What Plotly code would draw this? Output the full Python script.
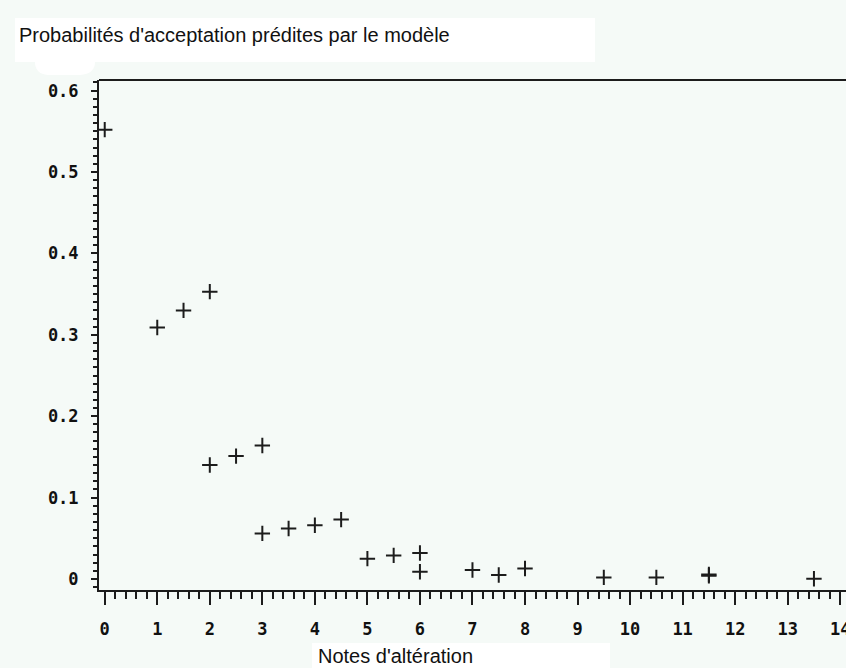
import plotly.graph_objects as go

# Model-predicted acceptance probabilities by alteration score
notes = [0, 1, 1.5, 2, 2, 2.5, 3, 3, 3.5, 4, 4.5, 5, 5.5, 6, 6,
         7, 7.5, 8, 9.5, 10.5, 11.5, 11.5, 13.5]
probas = [0.552, 0.309, 0.330, 0.353, 0.140, 0.151, 0.164, 0.056, 0.062,
          0.066, 0.073, 0.025, 0.029, 0.032, 0.009, 0.011, 0.005, 0.013,
          0.002, 0.002, 0.004, 0.0055, 0.0003]

x_ticks = list(range(0, 15))
x_ticklabels = [str(v) for v in x_ticks]
y_ticks = [0, 0.1, 0.2, 0.3, 0.4, 0.5, 0.6]
y_ticklabels = ["0", "0.1", "0.2", "0.3", "0.4", "0.5", "0.6"]

title_text = "Probabilités d'acceptation prédites par le modèle"
xtitle_text = "Notes d'altération"

W, H = 846, 668
ML, MR, MT, MB = 99, 0, 80, 78
PW, PH = W - ML - MR, H - MT - MB

BG = "#f5faf7"
INK = "#1c1c1c"


def px(x):
    return (x - ML) / PW


def py(y):
    return (H - MB - y) / PH


fig = go.Figure()
fig.add_trace(go.Scatter(
    x=notes, y=probas, mode="markers",
    marker=dict(symbol="cross-thin", size=11, color=INK,
                line=dict(color=INK, width=2)),
    hoverinfo="x+y", showlegend=False,
))

tick_font = dict(family="DejaVu Sans Mono", size=17, color="#111", weight="bold")

fig.update_layout(
    width=W, height=H,
    margin=dict(l=ML, r=MR, t=MT, b=MB, pad=0),
    paper_bgcolor=BG, plot_bgcolor=BG,
    xaxis=dict(
        range=[-0.109, 14.11], tickmode="array", tickvals=x_ticks,
        ticktext=x_ticklabels, ticks="outside", ticklen=13, tickwidth=2,
        tickcolor=INK, showline=True, linecolor=INK, linewidth=2,
        showgrid=False, zeroline=False, tickfont=tick_font,
        ticklabelstandoff=10, ticklabeloverflow="allow", automargin=False,
        minor=dict(ticks="outside", ticklen=7, tickwidth=2,
                   tickcolor=INK, dtick=0.2, tick0=0, showgrid=False),
    ),
    yaxis=dict(
        range=[-0.0135, 0.613], tickmode="array", tickvals=y_ticks,
        ticktext=y_ticklabels, ticks="outside", ticklen=6, tickwidth=2,
        tickcolor=INK, showline=True, linecolor=INK, linewidth=2,
        showgrid=False, zeroline=False, tickfont=tick_font,
        ticklabelstandoff=9, automargin=False,
        minor=dict(ticks="outside", ticklen=4, tickwidth=2,
                   tickcolor=INK, dtick=0.01, tick0=0, showgrid=False),
    ),
    shapes=[
        # white label panels
        dict(type="rect", xref="paper", yref="paper", layer="below",
             x0=px(15), x1=px(595), y0=py(62), y1=py(18),
             fillcolor="white", line=dict(width=0)),
        dict(type="path", xref="paper", yref="paper", layer="below",
             path=(f"M {px(35)},{py(62)} L {px(95)},{py(62)} "
                   f"Q {px(95)},{py(74)} {px(80)},{py(75)} "
                   f"L {px(48)},{py(75)} Q {px(35)},{py(74)} {px(35)},{py(62)} Z"),
             fillcolor="white", line=dict(width=0)),
        dict(type="rect", xref="paper", yref="paper", layer="below",
             x0=px(312), x1=px(610), y0=py(668), y1=py(643),
             fillcolor="white", line=dict(width=0)),
        # top frame line
        dict(type="line", xref="paper", yref="paper",
             x0=0, x1=1, y0=1, y1=1, line=dict(color=INK, width=2)),
    ],
    annotations=[
        dict(text=title_text, xref="paper", yref="paper",
             x=px(17), y=py(35), xanchor="left", yanchor="middle",
             showarrow=False,
             font=dict(family="Liberation Sans", size=20, color="#111")),
        dict(text=xtitle_text, xref="paper", yref="paper",
             x=px(316), y=py(656), xanchor="left", yanchor="middle",
             showarrow=False,
             font=dict(family="Liberation Sans", size=20, color="#111")),
    ],
)

fig.write_html("out.html")
